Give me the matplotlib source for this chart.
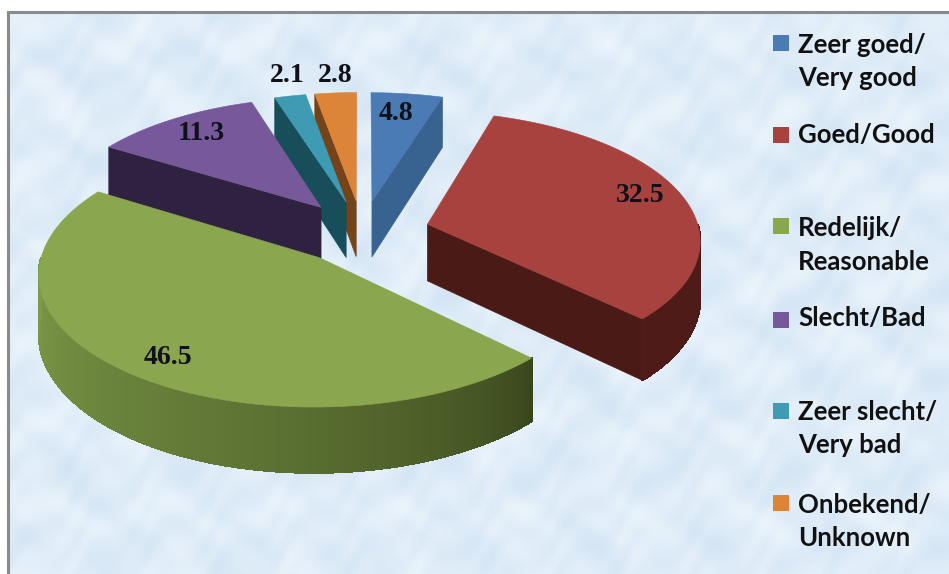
import numpy as np
import matplotlib
matplotlib.use("Agg")
import matplotlib.pyplot as plt
from matplotlib.colors import to_rgb
from matplotlib.patches import Polygon, Rectangle
from matplotlib.collections import PolyCollection

# ---- data ----
categories = ["Zeer goed/\nVery good", "Goed/Good", "Redelijk/\nReasonable",
              "Slecht/Bad", "Zeer slecht/\nVery bad", "Onbekend/\nUnknown"]
values = [4.8, 32.5, 46.5, 11.3, 2.1, 2.8]
value_labels = ["4.8", "32.5", "46.5", "11.3", "2.1", "2.8"]

# ---- style ----
top_colors = ["#4A7BB5", "#A8423F", "#8AA64E", "#77589B", "#3F9AB3", "#DC8539"]
face_colors = ["#38628F", "#4A1A17", "#4A5C26", "#2F2240", "#174E59", "#74431A"]
rim_dark = ["#2d4e73", "#4A1A17", "#38451B", "#2F2240", "#174E59", "#74431A"]
rim_light = ["#38628F", "#4F1B18", "#7D9A48", "#3a2a50", "#1d5a66", "#85501f"]
label_xy = [(396, 113), (640, 196), (168, 357), (201, 134), (287, 75), (335, 75)]
legend_sq_y = [35, 127, 218, 312, 403, 495]
legend_line_y = [(45, 78), (135,), (228, 262), (318,), (412, 445), (505, 538)]

# projection parameters of the tilted, exploded pie (pixels)
CX, CY, A, B, K, DEPTH, EXPLODE = 362, 232, 272, 127, 0.11, 57, 0.25


def project(x, y, lowered=False):
    x, y = np.asarray(x, float), np.asarray(y, float)
    p = 1 / (1 + K * y)
    return CX + A * x * p, CY - B * y * p + (DEPTH * p if lowered else 0)


def mix(c1, c2, t):
    return tuple((1 - t) * a + t * b for a, b in zip(to_rgb(c1), to_rgb(c2)))


fig = plt.figure(figsize=(9.49, 5.74), dpi=100)
ax = fig.add_axes([0, 0, 1, 1])
ax.set_xlim(0, 949)
ax.set_ylim(574, 0)
ax.axis("off")

# mottled pale-blue background
yy, xx = np.mgrid[0:574, 0:949]
m = (np.sin(xx / 19 + 1.6 * np.sin(yy / 23)) + np.sin(yy / 13 + 1.4 * np.sin(xx / 21))
     + 0.8 * np.sin((xx + yy) / 7 + 1.5 * np.sin(xx / 11)) + 0.6 * np.sin((xx - yy) / 9 + np.sin(yy / 15))) / 3.4
base = np.array(to_rgb("#D6E6F5"))
tint = np.array(to_rgb("#EEF6FC")) - base
img = base + (np.clip(m, -1, 1) * 0.5 + 0.4)[..., None] * tint
ax.imshow(np.clip(img, 0, 1), extent=(8, 949, 574, 12), aspect="auto", zorder=0)
ax.set_xlim(0, 949)
ax.set_ylim(574, 0)
ax.add_patch(Rectangle((0, 0), 949, 11, fc="white", ec="none", zorder=1))
ax.add_patch(Rectangle((0, 0), 7, 574, fc="white", ec="none", zorder=1))
ax.plot([8, 8, 949], [574, 12, 12], color="#8A8A8A", lw=2.2, zorder=1.5, solid_joinstyle="miter")

# wedge angles, clockwise from 12 o'clock
bounds = np.radians(np.concatenate([[0], np.cumsum(values)]) / np.sum(values) * 360)
mids = (bounds[:-1] + bounds[1:]) / 2
order = np.argsort(-np.cos(mids))

z = 2
for i in order:
    t0, t1 = bounds[i], bounds[i + 1]
    ex, ey = EXPLODE * np.sin(mids[i]), EXPLODE * np.cos(mids[i])
    th = np.linspace(t0, t1, 200)
    rx, ry = ex + np.sin(th), ey + np.cos(th)

    # cut faces that look towards the viewer
    for t, n_y in ((t0, np.sin(t0)), (t1, -np.sin(t1))):
        if n_y < 0:
            ox, oy = ex + np.sin(t), ey + np.cos(t)
            a = project([ex, ox], [ey, oy])
            b = project([ox, ex], [oy, ey], lowered=True)
            ax.add_patch(Polygon(np.column_stack([np.r_[a[0], b[0]], np.r_[a[1], b[1]]]),
                                 fc=face_colors[i], ec=face_colors[i], lw=0.5, zorder=z))
            z += 1

    # outer rim, shaded along its length
    vis = np.cos(th) < 0
    if vis.any():
        tx, ty = project(rx[vis], ry[vis])
        bx, by = project(rx[vis], ry[vis], lowered=True)
        ax.add_patch(Polygon(np.column_stack([np.r_[tx, bx[::-1]], np.r_[ty, by[::-1]]]),
                             fc=mix(rim_dark[i], rim_light[i], 0.5), ec="none", zorder=z))
        z += 1
        quads, cols = [], []
        lo, hi = th[vis].min(), min(th[vis].max(), np.radians(270))
        for j in range(len(tx) - 1):
            quads.append([(tx[j], ty[j]), (tx[j + 1], ty[j + 1]), (bx[j + 1], by[j + 1]), (bx[j], by[j])])
            s = np.clip((th[vis][j] - lo) / max(hi - lo, 1e-6), 0, 1)
            cols.append(mix(rim_dark[i], rim_light[i], s ** 0.7))
        ax.add_collection(PolyCollection(quads, facecolors=cols, edgecolors=cols, linewidths=0.9,
                                         antialiaseds=False, zorder=z))
        z += 1

    # top surface
    px, py = project(np.r_[ex, rx], np.r_[ey, ry])
    ax.add_patch(Polygon(np.column_stack([px, py]), fc=top_colors[i], ec=top_colors[i], lw=0.4, zorder=z))
    z += 1

# value labels
for s, (x, y) in zip(value_labels, label_xy):
    ax.text(x, y, s, fontsize=20, fontweight="bold", family="Liberation Serif",
            color="#101018", ha="center", va="center", zorder=100)

# legend
for name, c, sy, ys in zip(categories, top_colors, legend_sq_y, legend_line_y):
    ax.add_patch(Rectangle((773, sy), 16, 16, fc=c, ec="none", zorder=100))
    for line, y in zip(name.split("\n"), ys):
        ax.text(798, y, line, fontsize=18.5, fontweight="bold", family="Lato",
                color="#111111", ha="left", va="center", zorder=100)

fig.savefig("out.png", dpi=100)
